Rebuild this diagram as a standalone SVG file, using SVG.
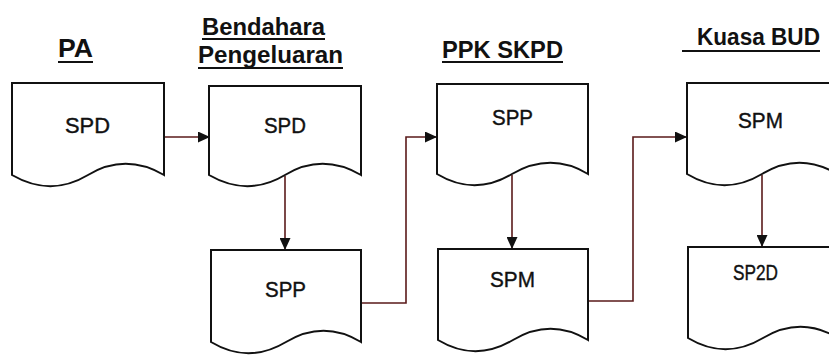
<svg xmlns="http://www.w3.org/2000/svg" width="829" height="358" viewBox="0 0 829 358">
<style>
.doc{fill:#fff;stroke:#111;stroke-width:2;stroke-linejoin:miter}
.lbl{font-family:"Liberation Sans",Arial,sans-serif;font-size:22px;fill:#111;stroke:#111;stroke-width:0.4}
.hdr{font-family:"Liberation Sans",Arial,sans-serif;font-weight:bold;fill:#111}
.ul{stroke:#111;stroke-width:2}
.con{fill:none;stroke:#5a1a1a;stroke-width:1.6}
</style>
<defs>
<marker id="ah" markerWidth="12" markerHeight="11" refX="12" refY="5.5" orient="auto" markerUnits="userSpaceOnUse">
<path d="M0,0 L12,5.5 L0,11 Z" fill="#111"/>
</marker>
</defs>
<rect width="829" height="358" fill="#fff"/>
<g id="headers">
<text class="hdr" x="58" y="57" font-size="26" textLength="35" lengthAdjust="spacingAndGlyphs">PA</text>
<line class="ul" x1="58" y1="62" x2="93" y2="62"/>
<text class="hdr" x="202" y="35" font-size="24" textLength="123" lengthAdjust="spacingAndGlyphs">Bendahara</text>
<line class="ul" x1="202" y1="39" x2="325" y2="39"/>
<text class="hdr" x="198" y="63" font-size="24" textLength="145" lengthAdjust="spacingAndGlyphs">Pengeluaran</text>
<line class="ul" x1="198" y1="68" x2="343" y2="68"/>
<text class="hdr" x="442" y="58" font-size="23" textLength="121" lengthAdjust="spacingAndGlyphs">PPK SKPD</text>
<line class="ul" x1="442" y1="62" x2="563" y2="62"/>
<text class="hdr" x="697" y="45" font-size="23" textLength="123" lengthAdjust="spacingAndGlyphs">Kuasa BUD</text>
<line class="ul" x1="682" y1="51" x2="820" y2="51"/>
</g>
<g id="connectors">
<path class="con" d="M164,137 H210" marker-end="url(#ah)"/>
<path class="con" d="M285,176 V250" marker-end="url(#ah)"/>
<path class="con" d="M361,303 H406 V137 H437" marker-end="url(#ah)"/>
<path class="con" d="M512,175 V249" marker-end="url(#ah)"/>
<path class="con" d="M588,301 H633 V137 H687" marker-end="url(#ah)"/>
<path class="con" d="M762,175 V247" marker-end="url(#ah)"/>
</g>
<g id="n1">
<path class="doc" d="M12,83 H164 V175 C138,160 113,160 88,175 C63,190 38,190 12,175 Z"/>
<text class="lbl" x="65" y="133" textLength="45" lengthAdjust="spacingAndGlyphs">SPD</text>
</g>
<g id="n2">
<path class="doc" d="M209,86 H361 V175 C335,160 310,160 285,175 C260,190 235,190 209,175 Z"/>
<text class="lbl" x="264" y="133" textLength="42" lengthAdjust="spacingAndGlyphs">SPD</text>
</g>
<g id="n3">
<path class="doc" d="M211,250 H361 V342 C336,327 311,327 286,342 C261,357 236,357 211,342 Z"/>
<text class="lbl" x="265" y="297" textLength="41" lengthAdjust="spacingAndGlyphs">SPP</text>
</g>
<g id="n4">
<path class="doc" d="M437,84 H588 V174 C563,159 538,159 512,174 C487,189 462,189 437,174 Z"/>
<text class="lbl" x="492" y="125" textLength="41" lengthAdjust="spacingAndGlyphs">SPP</text>
</g>
<g id="n5">
<path class="doc" d="M438,249 H588 V340 C563,325 538,325 513,340 C488,355 463,355 438,340 Z"/>
<text class="lbl" x="490" y="287" textLength="45" lengthAdjust="spacingAndGlyphs">SPM</text>
</g>
<g id="n6">
<path class="doc" d="M687,83 H837 V174 C812,159 787,159 762,174 C737,189 712,189 687,174 Z"/>
<text class="lbl" x="738" y="128" textLength="45" lengthAdjust="spacingAndGlyphs">SPM</text>
</g>
<g id="n7">
<path class="doc" d="M688,247 H838 V338 C813,323 788,323 763,338 C738,353 713,353 688,338 Z"/>
<text class="lbl" x="733" y="280" textLength="45" lengthAdjust="spacingAndGlyphs">SP2D</text>
</g>
</svg>
